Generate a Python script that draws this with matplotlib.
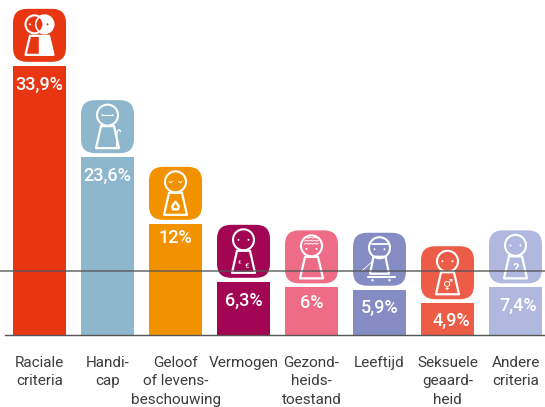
import matplotlib
matplotlib.use("Agg")
import matplotlib.pyplot as plt
from matplotlib.patches import FancyBboxPatch, Circle, Wedge
from matplotlib.transforms import IdentityTransform
import numpy as np

W, H = 545, 407
BASE = 335          # baseline, pixels from top
PX_PER_UNIT = 7.94  # vertical scale
PX_PER_CAT = 68.0
FIRST_CENTRE = 39.5

categories = ["Raciale\ncriteria", "Handi-\ncap", "Geloof\nof levens-\nbeschouwing", "Vermogen",
              "Gezond-\nheids-\ntoestand", "Leeftijd", "Seksuele\ngeaard-\nheid", "Andere\ncriteria"]
value_labels = ["33,9%", "23,6%", "12%", "6,3%", "6%", "5,9%", "4,9%", "7,4%"]
# drawn heights (the original is not strictly to scale)
drawn_heights = [33.9, 22.4, 14.0, 6.7, 6.0, 5.7, 4.0, 6.0]
colors = ["#E83612", "#8EB6CC", "#F39200", "#A10553", "#EF6C87", "#858BC3", "#EC5C47", "#B0B8DF"]
label_dx = [0, 0, 0, 0, 0, 0, 4, 3]
label_dy = [19, 19, 14, 19, 16, 18, 18, 19]

fig = plt.figure(figsize=(W / 100, H / 100), dpi=100)
ax = fig.add_axes([0, 0, 1, 1])
ax.set_xlim(-FIRST_CENTRE / PX_PER_CAT, (W - FIRST_CENTRE) / PX_PER_CAT)
ax.set_ylim(-(H - BASE) / PX_PER_UNIT, BASE / PX_PER_UNIT)
ax.axis("off")

LABEL_FONT = ["Roboto", "DejaVu Sans"]
x_pos = np.arange(len(categories))
ax.bar(x_pos, drawn_heights, width=53 / PX_PER_CAT, color=colors, zorder=2)

WHITE = "white"
ID = IdentityTransform()


class Icon:
    """Small pictogram drawn in pixels around the tile centre (dy up)."""

    def __init__(self, i, hv, col):
        self.col = col
        self.cx = FIRST_CENTRE + i * PX_PER_CAT
        tile_bottom = BASE - hv * PX_PER_UNIT - 4
        self.cy = H - tile_bottom + 26.5
        ax.add_patch(FancyBboxPatch((self.cx - 13, self.cy - 13), 26, 26,
                                    boxstyle="round,pad=13.5,rounding_size=14",
                                    fc=col, ec="none", zorder=3, transform=ID))

    def line(self, pts, lw=1.1, close=False):
        pts = list(pts) + ([pts[0]] if close else [])
        ax.plot([self.cx + p[0] for p in pts], [self.cy + p[1] for p in pts], color=WHITE, lw=lw, zorder=5,
                transform=ID, solid_capstyle="round", solid_joinstyle="round")

    def circle(self, x, y, r, fc="none", ec=WHITE, lw=1.5, z=5):
        ax.add_patch(Circle((self.cx + x, self.cy + y), r, fc=fc, ec=ec, lw=lw, zorder=z, transform=ID))

    def dot(self, x, y, r=1.0, color=WHITE):
        self.circle(x, y, r, fc=color, ec="none", lw=0, z=6)

    def person(self, top=0.5, bot=-21.5, wt=6.5, wb=11.5, cy=11.5, r=10.5):
        self.circle(0, cy, r)
        self.line([(-wt, top), (wt, top), (wb, bot), (-wb, bot)], lw=1.6, close=True)

    def eyes(self, cy=11.5, d=5):
        self.dot(-d, cy)
        self.dot(d, cy)

    def text(self, x, y, s, size, family=("Roboto", "DejaVu Sans"), weight="normal"):
        ax.text(self.cx + x, self.cy + y, s, color=WHITE, fontsize=size, ha="center", va="center",
                zorder=6, family=list(family), fontweight=weight, transform=ID)


def draw_icon(i, hv, col):
    ic = Icon(i, hv, col)
    if i == 0:
        ic.circle(5, 11, 9, fc=WHITE)
        ic.circle(-5, 11, 9, fc=col)
        ax.add_patch(Wedge((ic.cx + 5, ic.cy + 11), 9.6, 105, 255, width=1.6, fc=WHITE, ec="none", zorder=5, transform=ID))
        ic.dot(-9.5, 11)
        ic.dot(8, 11, color=col)
        ic.line([(-9.5, -0.5), (9.5, -0.5), (14, -19.5), (-14, -19.5)], lw=1.6, close=True)
        ax.fill([ic.cx, ic.cx + 9.5, ic.cx + 14, ic.cx], [ic.cy - 0.5, ic.cy - 0.5, ic.cy - 19.5, ic.cy - 19.5],
                color=WHITE, zorder=5, transform=ID)
    elif i == 1:
        ic.person()
        ic.eyes()
        ic.line([(-5, 11.5), (5, 11.5)], lw=0.7)
        ic.line([(9, -20), (9.5, -7), (10, -4), (12, -3), (13, -5)], lw=0.9)
    elif i == 2:
        ic.person()
        for s in (-1, 1):
            ic.line([(s * 6.5, 12), (s * 5, 10.5), (s * 3, 12)], lw=0.7)
        ic.line([(-2.5, -16), (-3.3, -13), (0, -8.5), (3.3, -13), (2.5, -16)], lw=1.7, close=True)
    elif i == 3:
        ic.person()
        ic.eyes()
        ic.text(-4, -11, "€", 4.5)
        ic.text(3, -15, "€", 6)
    elif i == 4:
        ic.person(cy=11, top=0)
        ic.eyes(cy=8)
        for dy in (13, 16, 19):
            ic.line([(-7 + k * 2, dy + (0.7 if k % 2 else -0.3)) for k in range(8)], lw=0.7)
    elif i == 5:
        ic.person(top=2.5, bot=-14.5, wt=6, wb=9.5)
        ic.eyes(cy=10)
        ic.line([(-8, 15), (8, 15)], lw=1.3)
        ic.line([(-11.5, -18), (15.5, -18)], lw=1.5)
        ic.dot(-7, -21, 1.2)
        ic.dot(10, -21, 1.2)
        ic.line([(-17.5, -11.5), (-7.5, -2.5)], lw=0.6)
    elif i == 6:
        ic.person()
        ic.eyes()
        ic.text(0, -12, "⚥", 8, family=("DejaVu Sans",))
    else:
        ic.person()
        ic.eyes()
        ic.text(0, -12, "?", 9, weight="bold")


for i, (hv, col) in enumerate(zip(drawn_heights, colors)):
    draw_icon(i, hv, col)
    ax.text(i + label_dx[i] / PX_PER_CAT, hv - label_dy[i] / PX_PER_UNIT, value_labels[i],
            color=WHITE, fontsize=13, fontweight="medium", ha="center", va="center", zorder=5, family=LABEL_FONT)
    ax.text(i, -(356 - BASE) / PX_PER_UNIT, categories[i], color="#3C3C3B", fontsize=11,
            ha="center", va="top", linespacing=1.39, zorder=5, family=LABEL_FONT, clip_on=False)

ax.axhline(0, xmin=5 / W, xmax=1, color="#555555", lw=1.0, zorder=7)
ax.axhline((BASE - 271) / PX_PER_UNIT, xmin=0, xmax=1, color="#555555", alpha=0.75, lw=1.3, zorder=7)

fig.savefig("out.png", dpi=100)
